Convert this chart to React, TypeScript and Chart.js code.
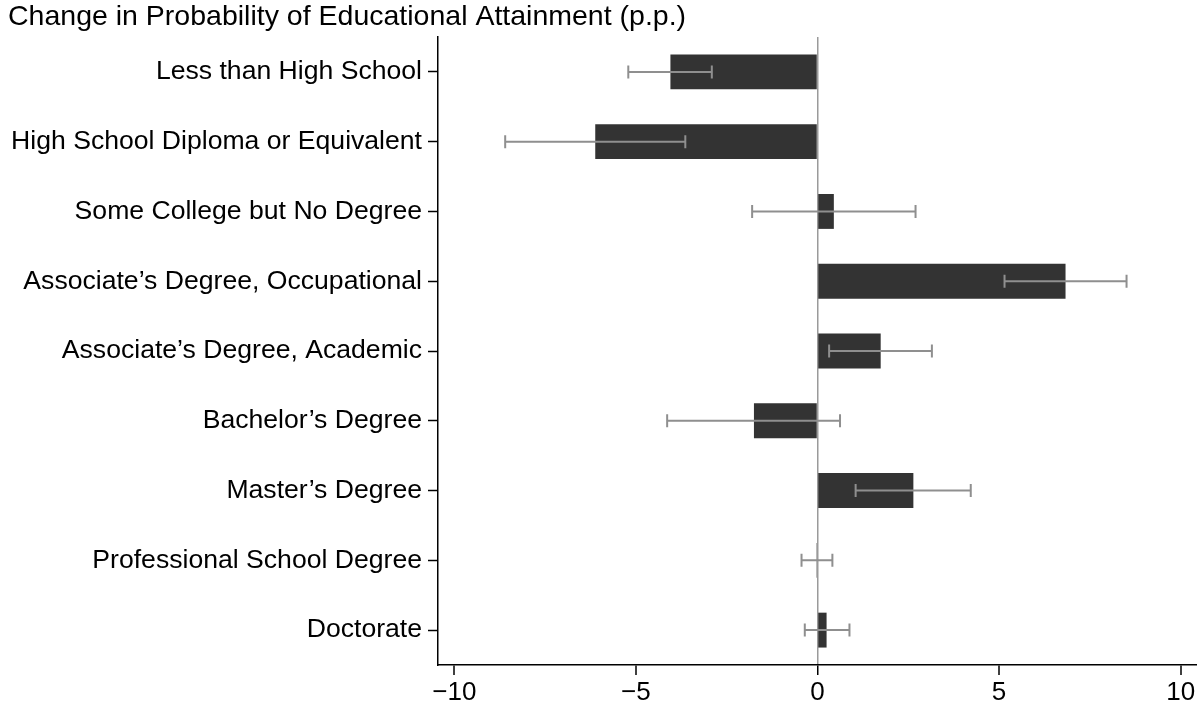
import React, { useEffect, useRef } from "react";
import { Chart, registerables } from "chart.js";

Chart.register(...registerables);

const categories = [
  "Less than High School",
  "High School Diploma or Equivalent",
  "Some College but No Degree",
  "Associate’s Degree, Occupational",
  "Associate’s Degree, Academic",
  "Bachelor’s Degree",
  "Master’s Degree",
  "Professional School Degree",
  "Doctorate",
];
const estimates = [-4.05, -6.12, 0.45, 6.83, 1.74, -1.75, 2.64, -0.03, 0.25];
const ciLow = [-5.21, -8.6, -1.8, 5.15, 0.32, -4.14, 1.05, -0.44, -0.35];
const ciHigh = [-2.91, -3.64, 2.7, 8.51, 3.15, 0.62, 4.22, 0.41, 0.88];
const xTicks = [-10, -5, 0, 5, 10];
const titleText = "Change in Probability of Educational Attainment (p.p.)";

const FONT = "'Liberation Sans', Arial, Helvetica, sans-serif";

const errorBarPlugin = {
  id: "errorBars",
  afterDatasetsDraw(chart: any) {
    const xs = chart.scales.x;
    const ys = chart.scales.y;
    const ctx = chart.ctx;
    ctx.save();
    ctx.strokeStyle = "#8f8f8f";
    ctx.lineWidth = 2;
    const cap = 6.5;
    for (let i = 0; i < categories.length; i++) {
      const y = ys.getPixelForValue(i);
      const x1 = xs.getPixelForValue(ciLow[i]);
      const x2 = xs.getPixelForValue(ciHigh[i]);
      ctx.beginPath();
      ctx.moveTo(x1, y);
      ctx.lineTo(x2, y);
      ctx.moveTo(x1, y - cap);
      ctx.lineTo(x1, y + cap);
      ctx.moveTo(x2, y - cap);
      ctx.lineTo(x2, y + cap);
      ctx.stroke();
    }
    ctx.restore();
  },
};

export default function App() {
  const ref = useRef<HTMLCanvasElement>(null);
  useEffect(() => {
    if (!ref.current) return;
    const chart = new Chart(ref.current, {
      type: "bar",
      data: {
        labels: categories,
        datasets: [
          {
            data: estimates,
            backgroundColor: "#333333",
            borderWidth: 0,
            barPercentage: 1,
            categoryPercentage: 0.5,
          },
        ],
      },
      options: {
        indexAxis: "y",
        animation: false,
        responsive: false,
        layout: { padding: { left: 8, right: 5, top: 0, bottom: 0 } },
        plugins: {
          legend: { display: false },
          tooltip: { enabled: false },
          title: {
            display: true,
            text: titleText,
            align: "start",
            color: "#000",
            font: { family: FONT, size: 28.5, weight: "normal", lineHeight: 1.2 },
            padding: { top: 0, bottom: 2.8 },
          },
        },
        scales: {
          x: {
            type: "linear",
            min: -10.45,
            max: 10.45,
            afterBuildTicks: (scale: any) => {
              scale.ticks = xTicks.map((v) => ({ value: v }));
            },
            afterFit: (scale: any) => {
              scale.height = 41;
            },
            border: { display: true, color: "#000", width: 1.5 },
            grid: {
              display: true,
              drawOnChartArea: true,
              drawTicks: true,
              tickLength: 10,
              tickColor: "#000",
              tickWidth: 1.5,
              color: (ctx: any) => (ctx.tick && ctx.tick.value === 0 ? "#9a9a9a" : "rgba(0,0,0,0)"),
              lineWidth: (ctx: any) => (ctx.tick && ctx.tick.value === 0 ? 1.5 : 0),
            },
            ticks: {
              color: "#000",
              padding: 2,
              font: { family: FONT, size: 26 },
              callback: (v: any) => (Number(v) < 0 ? "\u2212" + Math.abs(Number(v)) : String(v)),
            },
          },
          y: {
            type: "category",
            offset: true,
            afterFit: (scale: any) => {
              scale.width = 430;
            },
            border: { display: true, color: "#000", width: 1.5 },
            grid: {
              display: true,
              offset: false,
              drawOnChartArea: false,
              drawTicks: true,
              tickLength: 10,
              color: "#000",
              tickColor: "#000",
              tickWidth: 1.5,
            },
            ticks: {
              color: "#000",
              padding: 6,
              font: { family: FONT, size: 26.6 },
            },
          },
        },
      },
      plugins: [errorBarPlugin],
    } as any);
    return () => chart.destroy();
  }, []);
  return (
    <canvas
      ref={ref}
      width={1202}
      height={706}
      style={{ position: "fixed", left: 0, top: 0, display: "block", background: "#fff" }}
    />
  );
}
